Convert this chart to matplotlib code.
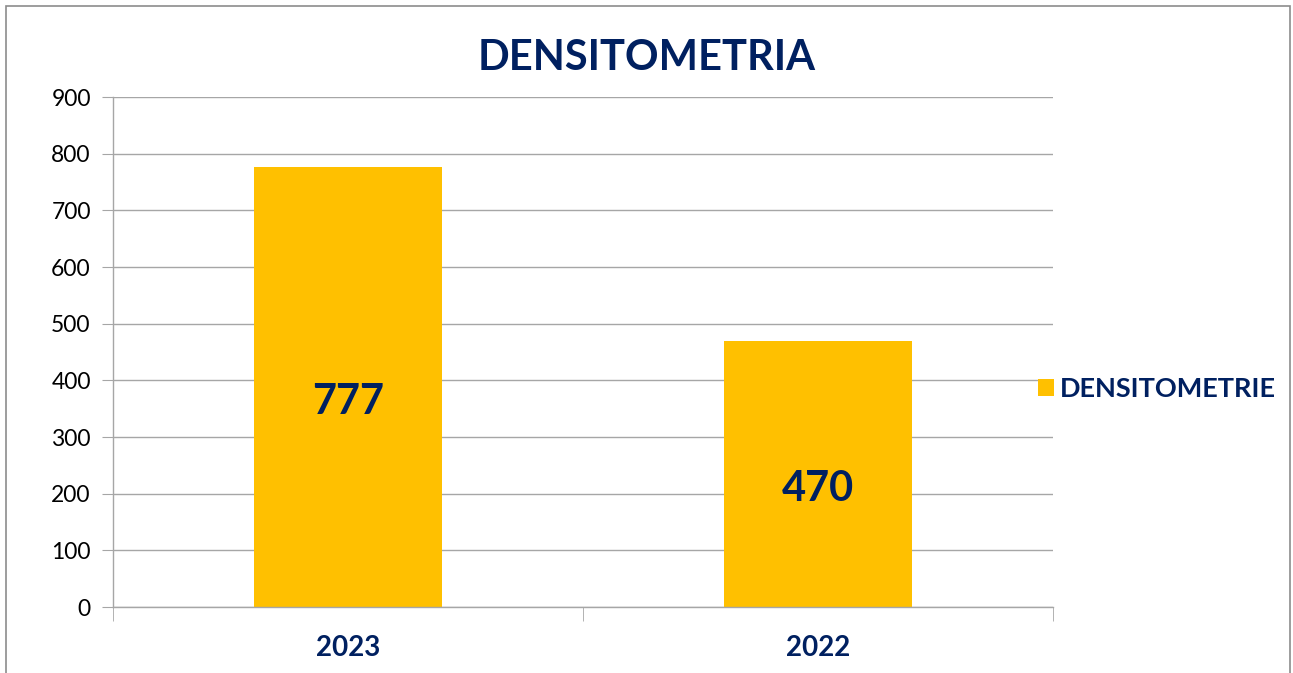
import matplotlib
matplotlib.use('Agg')
import matplotlib.pyplot as plt
from matplotlib.patches import Rectangle

# data
years = ['2023', '2022']
counts = [777, 470]
series_name = 'DENSITOMETRIE'
title = 'DENSITOMETRIA'
yticks = [0, 100, 200, 300, 400, 500, 600, 700, 800, 900]

navy = '#002060'
gold = '#FFC000'
grid_gray = '#A6A6A6'

plt.rcParams['font.family'] = ['Lato', 'DejaVu Sans']

fig = plt.figure(figsize=(12.93, 6.73), dpi=100)
ax = fig.add_axes([113 / 1293, 66 / 673, 940 / 1293, 510 / 673])

x = range(len(years))
bars = ax.bar(x, counts, width=0.4, color=gold, label=series_name, zorder=2)

# value labels, sitting a little below the bar middle
for b, v in zip(bars, counts):
    ax.annotate(str(v), (b.get_x() + b.get_width() / 2, v / 2), xytext=(0, -11),
                textcoords='offset points', ha='center', va='center',
                fontsize=30, fontweight='bold', color=navy, zorder=3)

ax.set_xlim(-0.5, len(years) - 0.5)
ax.set_ylim(0, 900)
ax.set_yticks(yticks)
ax.tick_params(axis='y', labelsize=16.5, length=8, color=grid_gray, pad=8, labelcolor='black')
ax.yaxis.grid(True, color=grid_gray, linewidth=1, zorder=0)

ax.set_xticks(list(x))
ax.set_xticklabels(years, fontsize=20, fontweight='bold', color=navy)
ax.tick_params(axis='x', length=0, pad=20)
ax.set_xticks([i - 0.5 for i in range(len(years) + 1)], minor=True)
ax.tick_params(axis='x', which='minor', length=10, color=grid_gray)

for s in ['top', 'right']:
    ax.spines[s].set_visible(False)
for s in ['left', 'bottom']:
    ax.spines[s].set_color(grid_gray)
    ax.spines[s].set_linewidth(1)

fig.text(0.5, 1 - 58 / 673, title, ha='center', va='center',
         fontsize=30, fontweight='bold', color=navy)

leg = ax.legend(loc='center left', bbox_to_anchor=(0.958, 0.428), frameon=False,
                handlelength=0.6, handleheight=0.6, handletextpad=0.2, fontsize=19.5)
for t in leg.get_texts():
    t.set_color(navy)
    t.set_fontweight('bold')

# outer chart frame
fig.patches.append(Rectangle((6 / 1293, -0.05), 1284 / 1293, 1.05 - 6 / 673,
                             transform=fig.transFigure, fill=False,
                             edgecolor='#8C8C8C', linewidth=1.2))

fig.savefig('out.png', dpi=100)
